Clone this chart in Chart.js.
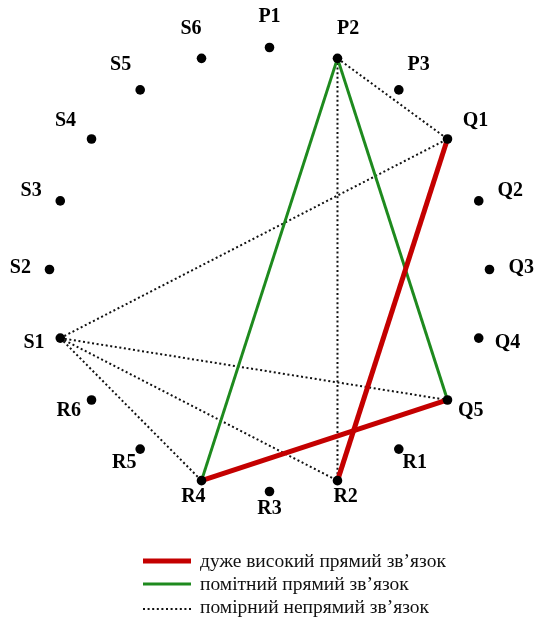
<!DOCTYPE html>
<html>
<head>
<meta charset="utf-8">
<script src="https://cdn.jsdelivr.net/npm/chart.js@4/dist/chart.umd.min.js"></script>
<style>
  html, body { margin: 0; padding: 0; background: #fff; }
  #wrap { width: 536px; height: 617px; position: relative; }
</style>
</head>
<body>
<div id="wrap"><canvas id="c"></canvas></div>
<script>
// Indicators of the correlation pleiad, clockwise from the top
const nodes = ['P1','P2','P3','Q1','Q2','Q3','Q4','Q5','R1','R2','R3','R4','R5','R6','S1','S2','S3','S4','S5','S6'];

// Links grouped by strength / sign of the correlation
const veryHighDirect  = [['Q1','R2'], ['R4','Q5']];
const notableDirect   = [['P2','R4'], ['P2','Q5']];
const moderateInverse = [['P2','Q1'], ['P2','R2'], ['S1','Q1'], ['S1','Q5'], ['S1','R2'], ['S1','R4']];

const linkLabels = ['дуже високий прямий зв’язок', 'помітний прямий зв’язок', 'помірний непрямий зв’язок'];

// Nodes sit evenly on a unit circle
function nodePos(name) {
  const i = nodes.indexOf(name);
  const a = i * 2 * Math.PI / nodes.length;
  return { x: Math.sin(a), y: Math.cos(a) };
}

const linkStyles = [
  { color: '#c40000', width: 5, dash: [] },
  { color: '#1e8a1e', width: 3, dash: [] },
  { color: '#111111', width: 2, dash: [2, 2.6] }
];
const linkGroups = [veryHighDirect, notableDirect, moderateInverse];

const datasets = [{
  label: 'nodes',
  data: nodes.map(nodePos),
  pointRadius: 4.8,
  pointHoverRadius: 4.8,
  pointBackgroundColor: '#000',
  pointBorderWidth: 0,
  showLine: false,
  clip: false,
  order: 0
}];

linkGroups.forEach((group, g) => {
  const st = linkStyles[g];
  group.forEach(([a, b]) => {
    datasets.push({
      label: linkLabels[g],
      data: [nodePos(a), nodePos(b)],
      showLine: true,
      borderColor: st.color,
      borderWidth: st.width,
      borderDash: st.dash,
      borderCapStyle: 'butt',
      pointRadius: 0,
      pointHoverRadius: 0,
      clip: false,
      order: g + 1
    });
  });
});

// Node names placed just outside each point
const nodeLabelPlugin = {
  id: 'nodeLabels',
  afterDatasetsDraw(chart) {
    const ctx = chart.ctx;
    const meta = chart.getDatasetMeta(0);
    ctx.save();
    ctx.font = 'bold 20px "Liberation Serif", "Times New Roman", serif';
    ctx.fillStyle = '#000';
    ctx.textAlign = 'center';
    ctx.textBaseline = 'middle';
    meta.data.forEach((pt, i) => {
      const a = i * 2 * Math.PI / nodes.length;
      const s = Math.sin(a), c = Math.cos(a);
      const hw = ctx.measureText(nodes[i]).width / 2;
      const hh = 7;
      const gap = 17 + 5 * c;
      const x = pt.x + gap * s + s * hw * 1.15;
      const y = pt.y - gap * c - c * hh - 2;
      ctx.fillText(nodes[i], x, y);
    });
    ctx.restore();
  }
};

// Legend of link types under the pleiad
const linkLegendPlugin = {
  id: 'linkLegend',
  afterDraw(chart) {
    const ctx = chart.ctx;
    const x0 = 143, x1 = 191, tx = 200;
    const rows = [561, 584, 607];
    ctx.save();
    ctx.font = '19.5px "Liberation Serif", "Times New Roman", serif';
    ctx.textBaseline = 'middle';
    ctx.textAlign = 'left';
    linkLabels.forEach((lab, k) => {
      const st = linkStyles[k];
      const y = rows[k] + (k === 2 ? 2 : 0);
      ctx.beginPath();
      ctx.strokeStyle = st.color;
      ctx.lineWidth = st.width;
      ctx.setLineDash(st.dash);
      ctx.lineCap = 'butt';
      ctx.moveTo(x0, y);
      ctx.lineTo(x1, y);
      ctx.stroke();
      ctx.setLineDash([]);
      ctx.fillStyle = '#111';
      ctx.fillText(lab, tx, rows[k] + 1);
    });
    ctx.restore();
  }
};

new Chart(document.getElementById('c'), {
  type: 'scatter',
  data: { datasets },
  options: {
    responsive: true,
    maintainAspectRatio: false,
    animation: false,
    events: [],
    layout: { padding: { left: 49.5, right: 46.5, top: 47.5, bottom: 125.5 } },
    scales: {
      x: { type: 'linear', min: -1, max: 1, display: false },
      y: { type: 'linear', min: -1, max: 1, display: false }
    },
    plugins: {
      legend: { display: false },
      tooltip: { enabled: false }
    }
  },
  plugins: [nodeLabelPlugin, linkLegendPlugin]
});
</script>
</body>
</html>
